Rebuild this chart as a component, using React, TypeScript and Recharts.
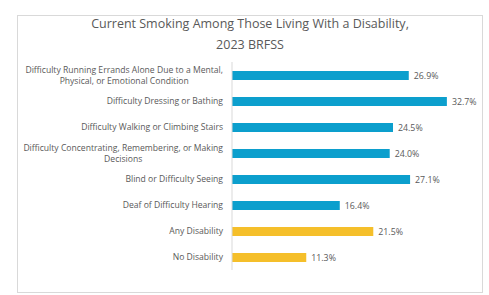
import { BarChart, Bar, XAxis, YAxis, Cell, LabelList } from "recharts";

const CATEGORIES = [
  "Difficulty Running Errands Alone Due to a Mental,\nPhysical, or Emotional Condition",
  "Difficulty Dressing or Bathing",
  "Difficulty Walking or Climbing Stairs",
  "Difficulty Concentrating, Remembering, or Making\nDecisions",
  "Blind or Difficulty Seeing",
  "Deaf of Difficulty Hearing",
  "Any Disability",
  "No Disability",
];
const VALUES = [26.9, 32.7, 24.5, 24.0, 27.1, 16.4, 21.5, 11.3];
const GROUPS = ["type", "type", "type", "type", "type", "type", "summary", "summary"];

const GROUP_COLOR: Record<string, string> = { type: "#0c9fcd", summary: "#f5bf2a" };
const FONT = '"Open Sans", "Noto Sans", sans-serif';
const TEXT_COLOR = "#595959";
const TICK_SIZE = 8.6;

const data = CATEGORIES.map((name, i) => ({ name, value: VALUES[i], group: GROUPS[i] }));

let ctx: CanvasRenderingContext2D | null = null;
function textWidth(s: string) {
  if (!ctx) ctx = document.createElement("canvas").getContext("2d");
  if (!ctx) return s.length * TICK_SIZE * 0.5;
  ctx.font = `${TICK_SIZE}px "Open Sans"`;
  return ctx.measureText(s).width;
}

// multi-line labels: lines centred on each other, block right-aligned to the axis
function CategoryTick({ x, y, payload }: any) {
  const lines: string[] = String(payload.value).split("\n");
  const lh = 11;
  const y0 = y - ((lines.length - 1) * lh) / 2;
  if (lines.length === 1) {
    return (
      <text x={x} y={y} dy={3} textAnchor="end" fontSize={TICK_SIZE} fill={TEXT_COLOR} fontFamily={FONT}>
        {lines[0]}
      </text>
    );
  }
  const w = Math.max(...lines.map(textWidth));
  const cx = x - w / 2;
  return (
    <text textAnchor="middle" fontSize={TICK_SIZE} fill={TEXT_COLOR} fontFamily={FONT}>
      {lines.map((l, i) => (
        <tspan key={i} x={cx} y={y0 + i * lh} dy={3}>
          {l}
        </tspan>
      ))}
    </text>
  );
}

export default function App() {
  return (
    <div style={{ position: "absolute", left: 0, top: 0, width: 489, height: 295, background: "#fff", fontFamily: FONT }}>
      <div
        style={{
          position: "absolute",
          left: 17,
          top: 15,
          width: 464,
          height: 276,
          border: "1px solid #d9d9d9",
          background: "#fff",
        }}
      >
        <div
          style={{
            position: "absolute",
            left: 0,
            top: -3,
            width: "100%",
            textAlign: "center",
            fontSize: 12.5,
            lineHeight: "21px",
            color: TEXT_COLOR,
          }}
        >
          Current Smoking Among Those Living With a Disability,
          <br />
          2023 BRFSS
        </div>
        <div style={{ position: "absolute", left: -1, top: -1 }}>
          <BarChart
            width={466}
            height={278}
            data={data}
            layout="vertical"
            margin={{ top: 47, right: 21, bottom: 23, left: 0 }}
          >
            <XAxis type="number" domain={[0, 35]} hide />
            <YAxis
              type="category"
              dataKey="name"
              width={215}
              tickLine={false}
              tickSize={0}
              tickMargin={9}
              axisLine={{ stroke: "#d9d9d9" }}
              tick={<CategoryTick />}
              interval={0}
            />
            <Bar dataKey="value" barSize={9} isAnimationActive={false}>
              {data.map((d, i) => (
                <Cell key={i} fill={GROUP_COLOR[d.group]} />
              ))}
              <LabelList
                dataKey="value"
                position="right"
                offset={5}
                fontSize={8.8}
                fill={TEXT_COLOR}
                fontFamily={FONT}
                formatter={(v: any) => `${Number(v).toFixed(1)}%`}
              />
            </Bar>
          </BarChart>
        </div>
      </div>
    </div>
  );
}
